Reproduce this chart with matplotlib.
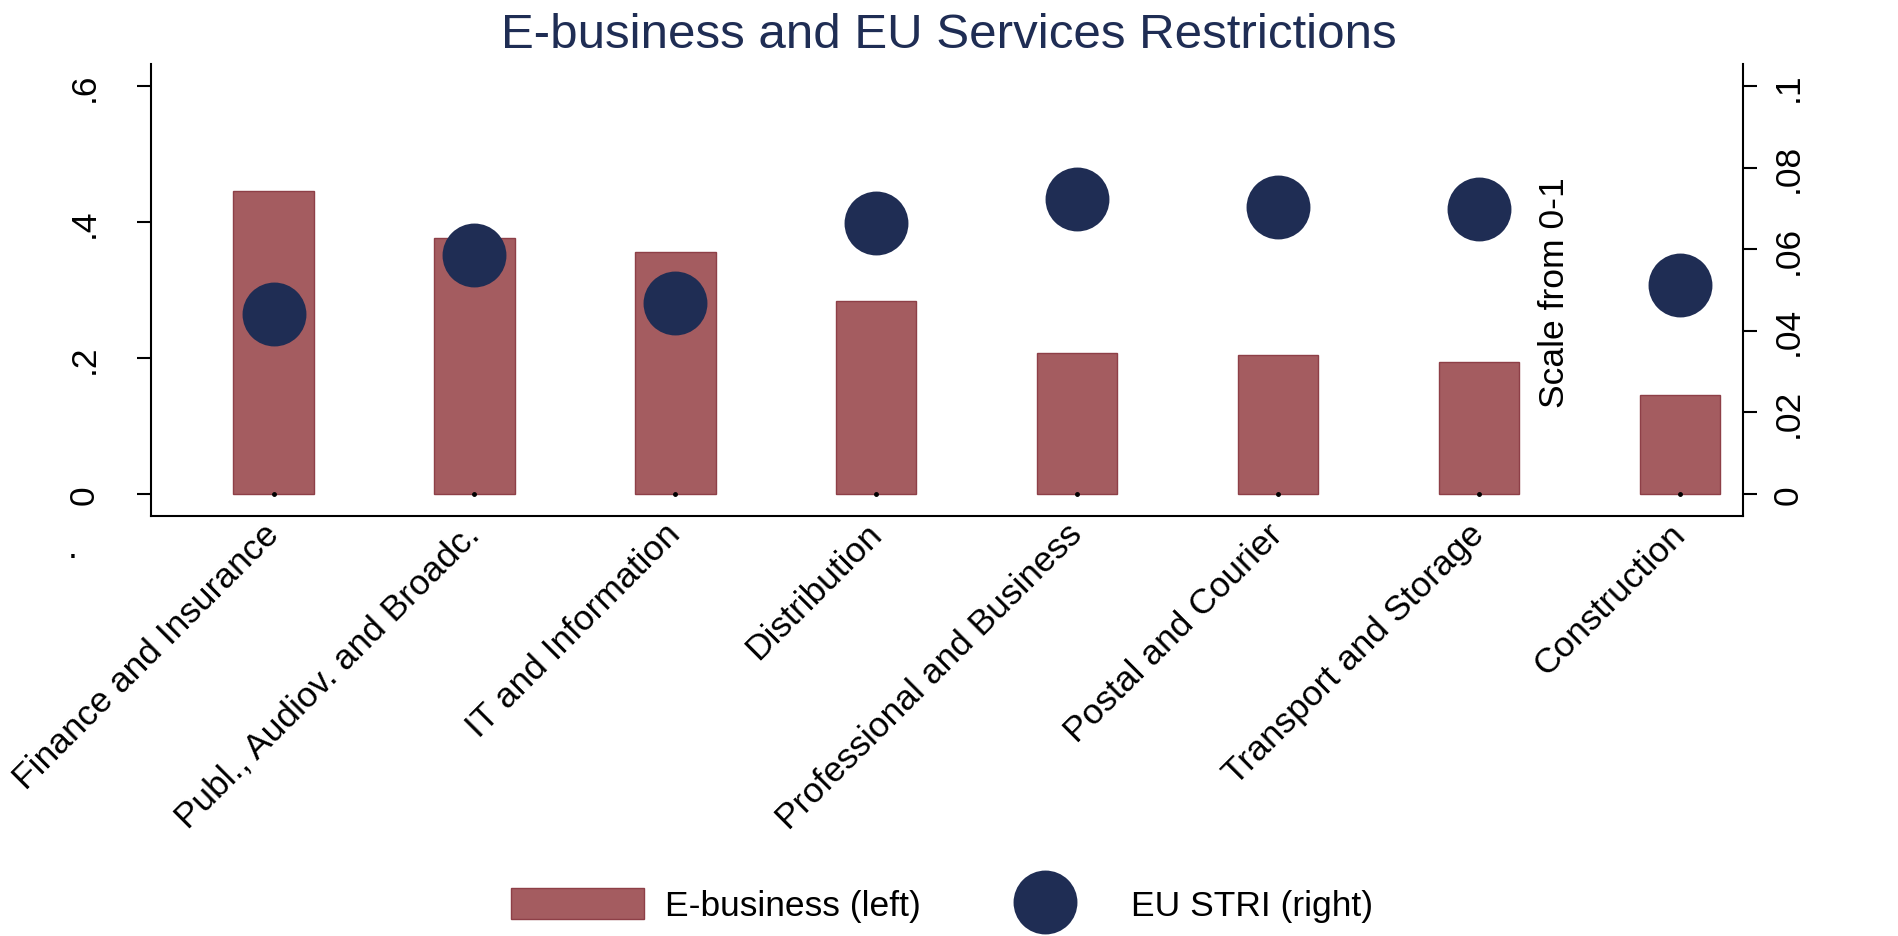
import matplotlib
matplotlib.use("Agg")
import matplotlib.pyplot as plt
import numpy as np

plt.rcParams['font.family'] = ['Liberation Sans', 'DejaVu Sans']

# data
sectors = ["Finance and Insurance", "Publ., Audiov. and Broadc.", "IT and Information",
           "Distribution", "Professional and Business", "Postal and Courier",
           "Transport and Storage", "Construction"]
ebusiness = [0.445, 0.376, 0.356, 0.284, 0.207, 0.204, 0.194, 0.146]
eu_stri = [0.0441, 0.0586, 0.0468, 0.0664, 0.0723, 0.0703, 0.0699, 0.0512]
left_ticks = [0, 0.2, 0.4, 0.6]
left_labels = ["0", ".2", ".4", ".6"]
right_ticks = [0, 0.02, 0.04, 0.06, 0.08, 0.1]
right_labels = ["0", ".02", ".04", ".06", ".08", ".1"]

bar_col = "#a45c60"
bar_edge = "#8e3f47"
dot_col = "#1f2d54"
fs = 25.5

W, H = 1898, 937
fig = plt.figure(figsize=(W / 100, H / 100), dpi=100)
ax = fig.add_axes([151 / W, 1 - 517 / H, (1743 - 151) / W, (517 - 65) / H])
ax2 = ax.twinx()

x = np.arange(len(sectors))
bars = ax.bar(x, ebusiness, width=0.4, color=bar_col, edgecolor=bar_edge, linewidth=1,
              label="E-business (left)", zorder=2)
ax.plot(x, np.zeros(len(x)), ls="none", marker="o", ms=2.5, color="black", zorder=3)
dots, = ax2.plot(x, eu_stri, ls="none", marker="o", ms=46, color=dot_col, mew=0,
                 label="EU STRI (right)")

ax.set_xlim(-0.61, 7.314)
ax.set_ylim(-0.0324, 0.6324)
ax2.set_ylim(-0.0324 / 6, 0.6324 / 6)

ax.set_yticks(left_ticks)
ax.set_yticklabels(left_labels, rotation=90, va="center", fontsize=fs)
ax2.set_yticks(right_ticks)
ax2.set_yticklabels(right_labels, rotation=90, va="center", fontsize=fs)
ax.tick_params(axis="y", length=10, width=1.5, pad=26)
ax2.tick_params(axis="y", length=10, width=1.5, pad=10.5)

ax.set_xticks(x)
ax.set_xticklabels(sectors, rotation=45, ha="right", va="center",
                   rotation_mode="anchor", fontsize=fs)
ax.tick_params(axis="x", length=0, pad=9)

for a in (ax, ax2):
    a.spines["top"].set_visible(False)
    for s in a.spines.values():
        s.set_linewidth(1.5)
ax.spines["right"].set_visible(False)
ax2.spines["left"].set_visible(False)
ax2.spines["bottom"].set_visible(False)

fig.text(0.5, 1 - 48 / H, "E-business and EU Services Restrictions",
         ha="center", va="baseline", fontsize=35.5, color=dot_col)
fig.text(1555 / W, 1 - 293 / H, "Scale from 0-1", rotation=90,
         ha="center", va="center", fontsize=fs)
fig.text(73 / W, 1 - 558 / H, ".", ha="center", va="baseline", fontsize=fs)

# two legend entries placed separately (key spacing differs)
leg1 = fig.legend([bars], ["E-business (left)"], loc="center left",
                  bbox_to_anchor=(511 / W, 1 - 906 / H), frameon=False, fontsize=fs,
                  borderpad=0, borderaxespad=0, handlelength=3.76, handleheight=1.0,
                  handletextpad=0.6)
leg2 = fig.legend([dots], ["EU STRI (right)"], loc="center left",
                  bbox_to_anchor=(1001 / W, 1 - 906 / H), frameon=False, fontsize=fs,
                  borderpad=0, borderaxespad=0, handlelength=2.5, handleheight=1.0,
                  handletextpad=1.17)

fig.savefig("out.png", dpi=100, facecolor="white")
